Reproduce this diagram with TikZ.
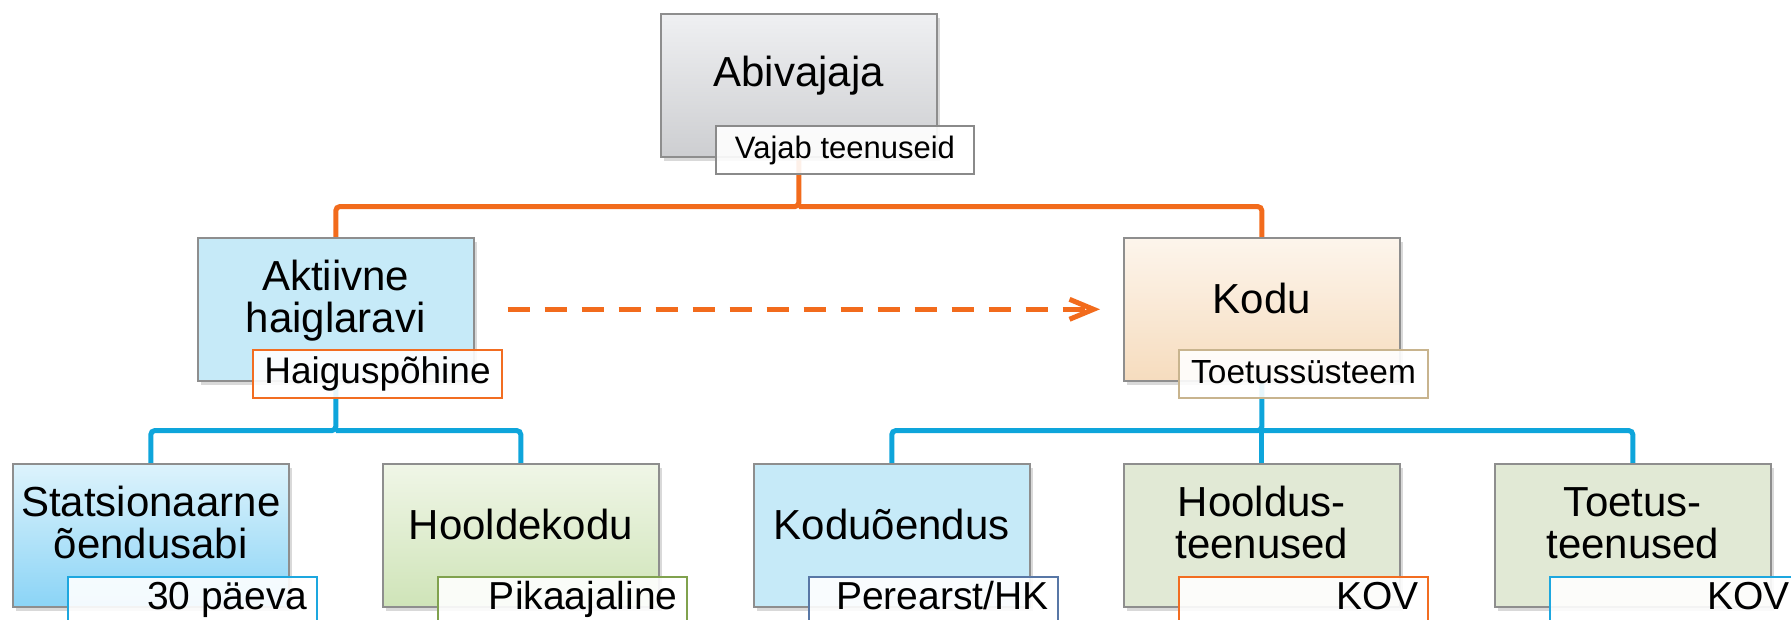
\documentclass[tikz,border=0pt]{standalone}
\usepackage{fontspec}
\setmainfont{Liberation Sans}
\usetikzlibrary{shadows,arrows.meta,calc,backgrounds}
\definecolor{conorange}{HTML}{F26B1C}
\definecolor{conblue}{HTML}{0EA5DB}
\definecolor{boxborder}{HTML}{8E8E8E}
\definecolor{grayT}{HTML}{EFF0F2}
\definecolor{grayB}{HTML}{CDCED1}
\definecolor{peachT}{HTML}{FDF5EC}
\definecolor{peachB}{HTML}{F6DCBE}
\definecolor{blueT}{HTML}{DDF3FC}
\definecolor{blueB}{HTML}{8BD4F6}
\definecolor{greenT}{HTML}{F0F6E7}
\definecolor{greenB}{HTML}{CFE4B8}
\definecolor{flatblue}{HTML}{C6EAF8}
\definecolor{flatgreen}{HTML}{E1E9D5}
\definecolor{tgray}{HTML}{8A8A8A}
\definecolor{torange}{HTML}{F26D21}
\definecolor{ttan}{HTML}{C8B48E}
\definecolor{tblue}{HTML}{1DA7DF}
\definecolor{tgreen}{HTML}{80A24E}
\definecolor{tslate}{HTML}{5877A6}
\begin{document}
\begin{tikzpicture}[x=0.5pt,y=0.5pt,
  box/.style={draw=boxborder, line width=0.8pt, minimum width=138pt, minimum height=71.5pt,
    anchor=north west, inner sep=0pt,
    drop shadow={shadow xshift=1.8pt, shadow yshift=-2.2pt, opacity=0.3}},
  tag/.style={draw, line width=1pt, fill=white, fill opacity=0.9, minimum width=124.5pt,
    minimum height=24pt, anchor=north west, inner sep=0pt},
  lowtag/.style={tag, minimum height=35pt},
  maintxt/.style={font=\fontsize{21}{21}\selectfont, align=center, anchor=base, inner sep=0pt},
  tagtxt/.style={anchor=base, inner sep=0pt},
  lowtxt/.style={font=\fontsize{19.5}{20}\selectfont, anchor=base east, inner sep=0pt},
  orangecon/.style={draw=conorange, line width=2.5pt, rounded corners=2pt},
  bluecon/.style={draw=conblue, line width=2.5pt, rounded corners=2pt},
  dasharrow/.style={draw=conorange, line width=2.5pt, dash pattern=on 11pt off 7.5pt,
    -{Straight Barb[length=12pt, width=10pt, line width=2.5pt]}}
]
\useasboundingbox (0,0) rectangle (1791,-620);

% boxes
\node[box, top color=grayT, bottom color=grayB] (abiv) at (660,-13) {};
\node[box, fill=flatblue] (akt) at (197,-237) {};
\node[box, top color=peachT, bottom color=peachB] (kodu) at (1123,-237) {};
\node[box, top color=blueT, bottom color=blueB] (stat) at (12,-463) {};
\node[box, top color=greenT, bottom color=greenB] (hook) at (382,-463) {};
\node[box, fill=flatblue] (kodo) at (753,-463) {};
\node[box, fill=flatgreen] (hool) at (1123,-463) {};
\node[box, fill=flatgreen] (toet) at (1494,-463) {};

% connectors
\begin{scope}[on background layer]
  \coordinate (j1) at ($(abiv.south)+(0,-49)$);
  \path[orangecon] (abiv.south) -- (j1) -| (akt.north);
  \path[orangecon] (j1) -| (kodu.north);
  \coordinate (j2) at ($(akt.south)+(0,-49)$);
  \path[bluecon] (akt.south) -- (j2) -| (stat.north);
  \path[bluecon] (j2) -| (hook.north);
  \coordinate (j3) at ($(kodu.south)+(0,-49)$);
  \path[bluecon] (kodu.south) -- (j3) -| (kodo.north);
  \path[bluecon] (j3) -| (hool.north);
  \path[bluecon] (j3) -| (toet.north);
\end{scope}
\path[dasharrow, shorten <=16.5pt, shorten >=11.5pt] (akt.east) -- (kodu.west);

% main texts (two-line nodes: base = baseline of last line)
\node[maintxt] (abivt) at ($(abiv.north)+(0,-74)$) {Abivajaja};
\node[maintxt] (aktt) at ($(akt.north)+(0,-95)$) {Aktiivne\\haiglaravi};
\node[maintxt] (kodut) at ($(kodu.north)+(0,-76)$) {Kodu};
\node[maintxt] (statt) at ($(stat.north)+(0,-95)$) {Statsionaarne\\õendusabi};
\node[maintxt] (hookt) at ($(hook.north)+(0,-76)$) {Hooldekodu};
\node[maintxt] (kodot) at ($(kodo.north)+(0,-76)$) {Koduõendus};
\node[maintxt] (hoolt) at ($(hool.north)+(0,-95)$) {Hooldus-\\teenused};
\node[maintxt] (toett) at ($(toet.north)+(0,-95)$) {Toetus-\\teenused};

% tags
\node[tag, draw=tgray, minimum width=129pt] (abivl) at ($(abiv.south west)+(55,33)$) {};
\node[tag, draw=torange] (aktl) at ($(akt.south west)+(55,33)$) {};
\node[tag, draw=ttan] (kodul) at ($(kodu.south west)+(55,33)$) {};
\node[lowtag, draw=tblue] (statl) at ($(stat.south west)+(55,32)$) {};
\node[lowtag, draw=tgreen] (hookl) at ($(hook.south west)+(55,32)$) {};
\node[lowtag, draw=tslate] (kodol) at ($(kodo.south west)+(55,32)$) {};
\node[lowtag, draw=torange] (hooll) at ($(hool.south west)+(55,32)$) {};
\node[lowtag, draw=tblue] (toetl) at ($(toet.south west)+(55,32)$) {};

% tag texts
\node[tagtxt, font=\fontsize{15.5}{16}\selectfont] (abivlt) at ($(abivl.north)+(0,-34)$) {Vajab teenuseid};
\node[tagtxt, font=\fontsize{18.5}{19}\selectfont] (aktlt) at ($(aktl.north)+(0,-35)$) {Haiguspõhine};
\node[tagtxt, font=\fontsize{16.7}{17}\selectfont] (kodult) at ($(kodul.north)+(0,-35)$) {Toetussüsteem};
\node[lowtxt] (statlt) at ($(statl.north east)+(-10,-34)$) {30 päeva};
\node[lowtxt] (hooklt) at ($(hookl.north east)+(-10,-34)$) {Pikaajaline};
\node[lowtxt] (kodolt) at ($(kodol.north east)+(-10,-34)$) {Perearst/HK};
\node[lowtxt] (hoollt) at ($(hooll.north east)+(-10,-34)$) {KOV};
\node[lowtxt] (toetlt) at ($(toetl.north east)+(-10,-34)$) {KOV};
\end{tikzpicture}
\end{document}
